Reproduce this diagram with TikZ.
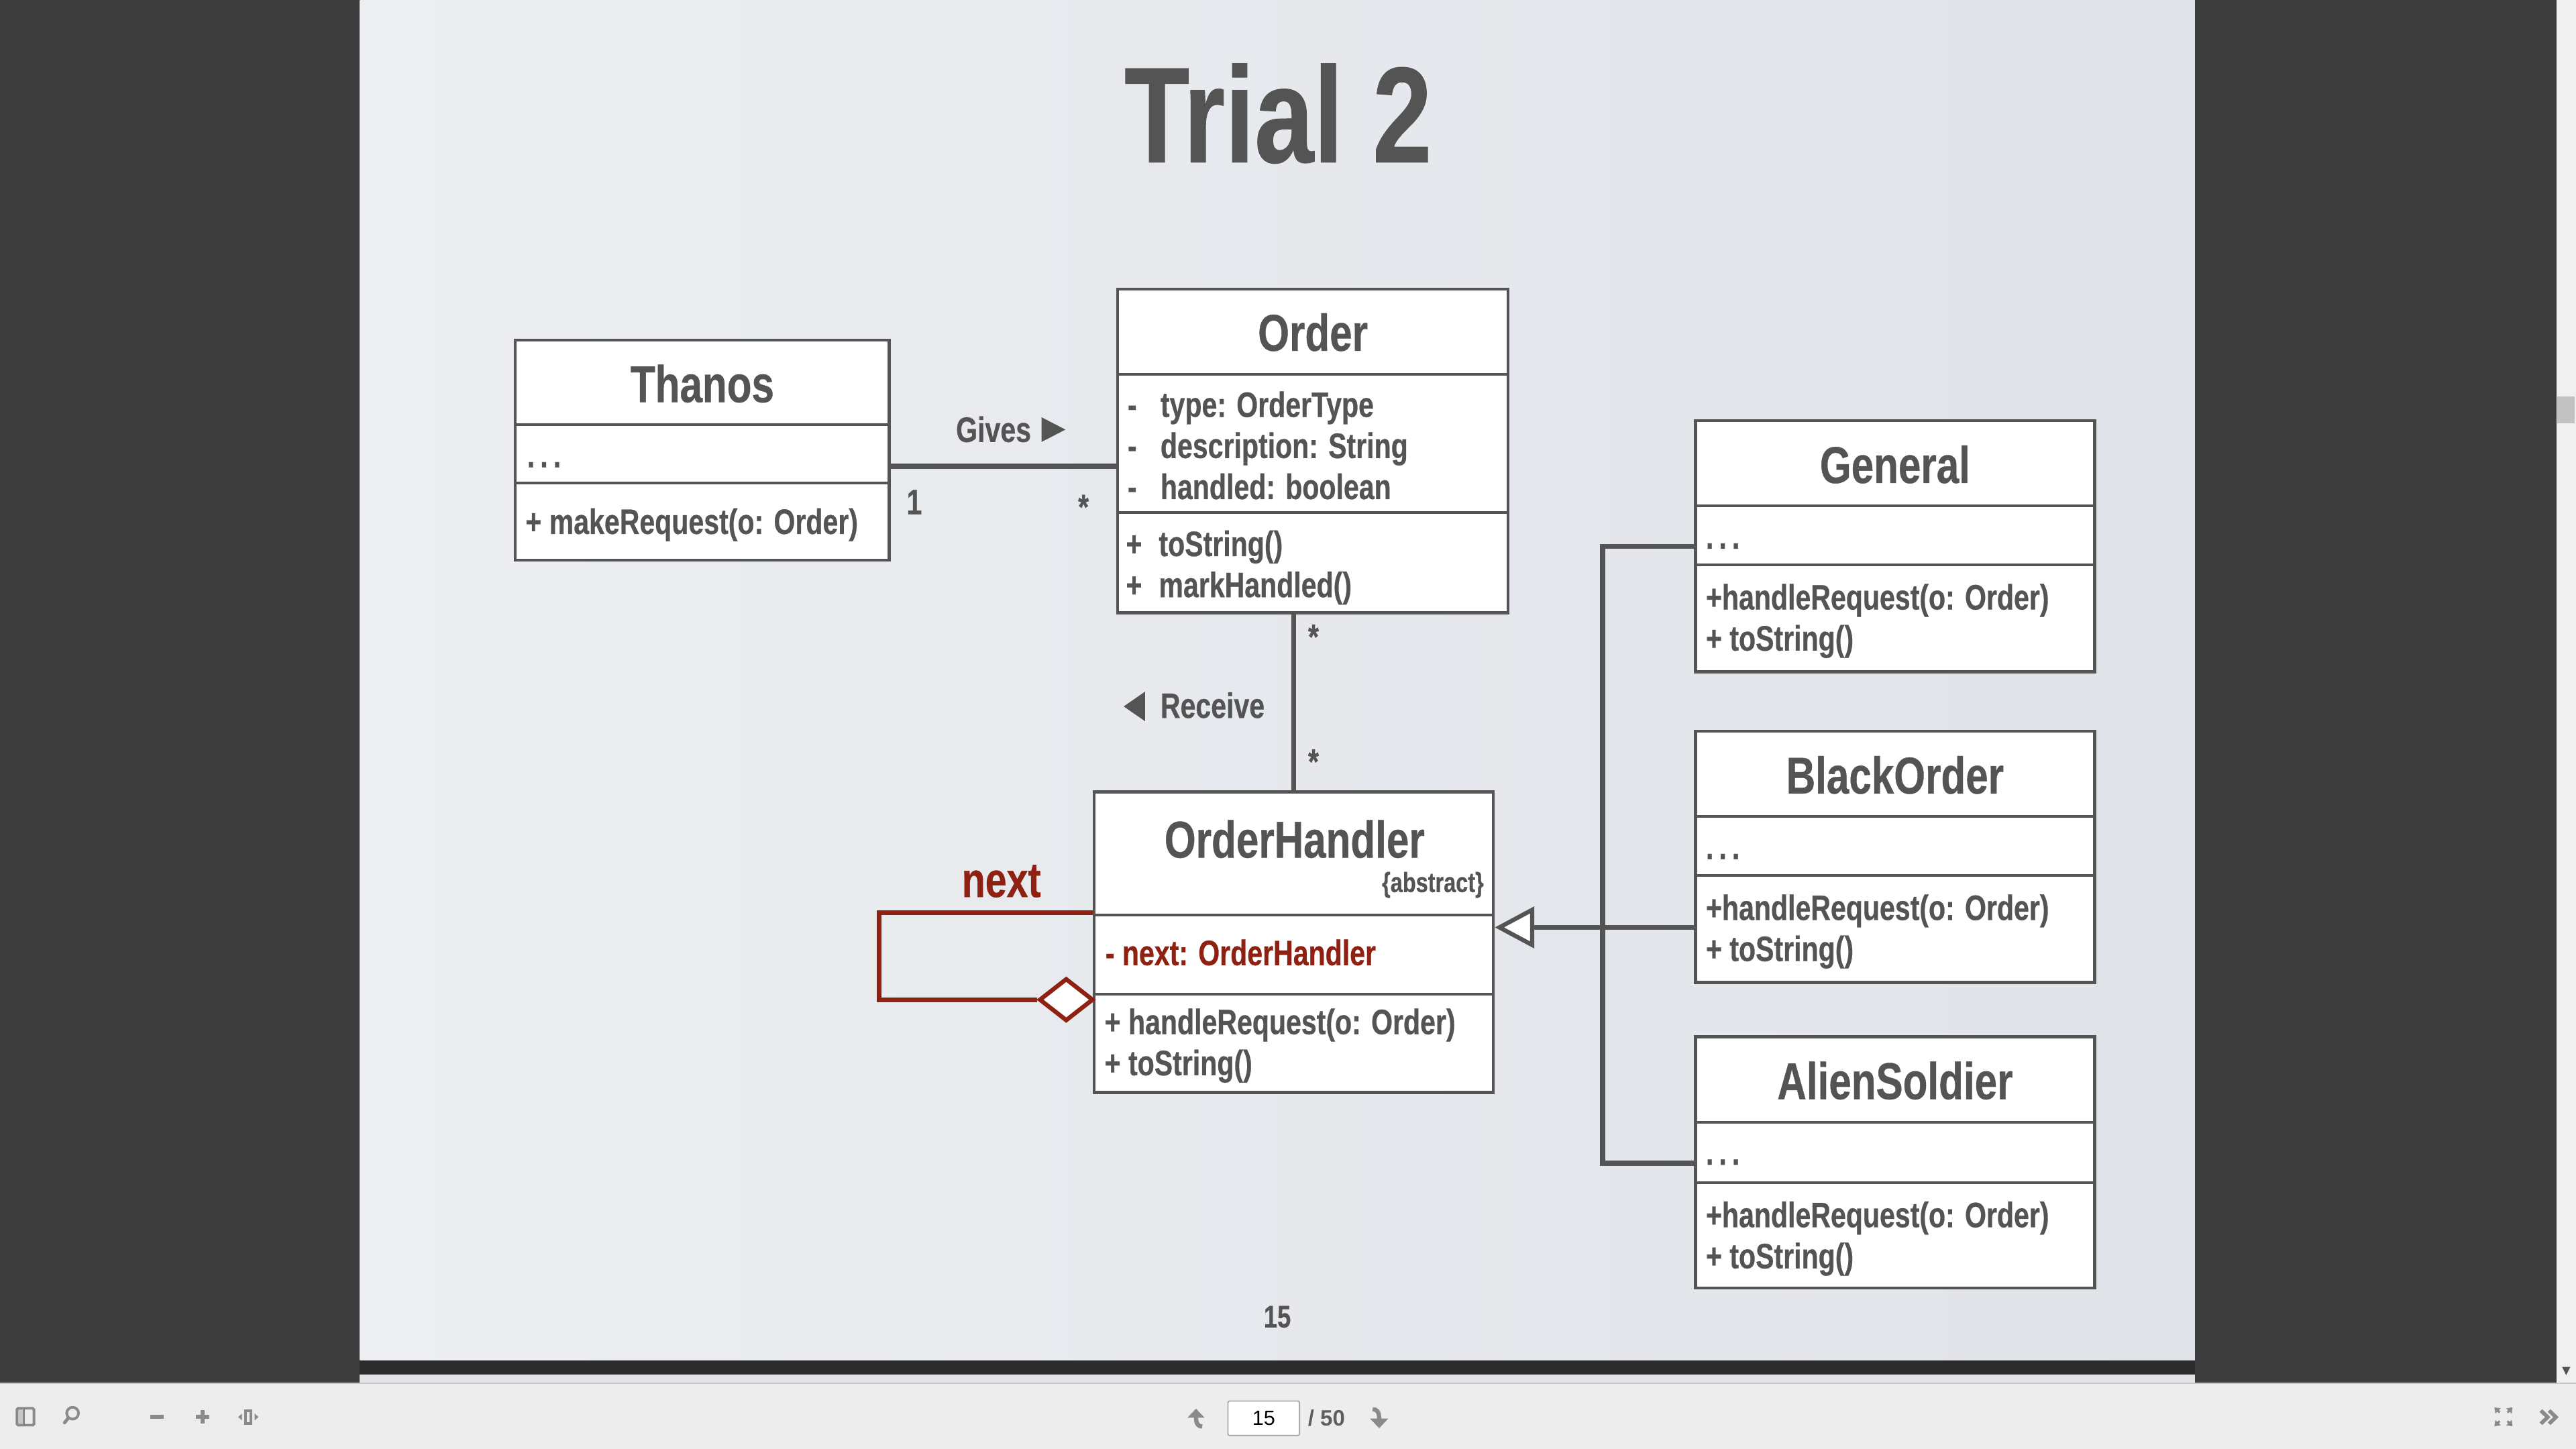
\documentclass[tikz,border=0pt]{standalone}
\usepackage{fontspec}
\setmainfont{Liberation Sans}[FakeStretch=0.78, BoldFeatures={FakeBold=0.5}]
\newfontfamily\barfont{Liberation Sans}
\usetikzlibrary{shapes.geometric,arrows.meta}

\definecolor{umlgray}{RGB}{84,84,84}
\definecolor{umlred}{RGB}{143,33,19}
\definecolor{viewerdark}{RGB}{60,60,60}
\definecolor{bandgray}{RGB}{44,44,44}
\definecolor{barlight}{RGB}{237,237,237}
\definecolor{icongray}{RGB}{138,138,138}
\definecolor{iconlight}{RGB}{200,200,200}
\definecolor{slideleft}{RGB}{236,238,241}
\definecolor{slideright}{RGB}{224,227,232}
\definecolor{nextslide}{RGB}{226,228,232}
\definecolor{scrolltrack}{RGB}{240,240,240}
\definecolor{scrollthumb}{RGB}{194,194,194}
\definecolor{barline}{RGB}{200,200,200}
\definecolor{boxline}{RGB}{170,170,170}
\definecolor{countgray}{RGB}{95,95,95}

\newcommand\umltitle{\fontsize{31.5}{36}\bfseries\selectfont}
\newcommand\umlbody{\fontsize{21.5}{25}\bfseries\selectfont}
\newcommand\umlsmall{\fontsize{17}{20}\bfseries\selectfont}
\newcommand\umldots{.\hspace{3.3pt}.\hspace{3.3pt}.}

\tikzset{every picture/.style={line width=0.75pt}}
\tikzset{
classbox/.style={draw=umlgray, fill=white, line width=1.8pt, inner sep=0pt},
divider/.style={draw=umlgray, line width=1.6pt},
assoc/.style={draw=umlgray, line width=3pt},
selfloop/.style={draw=umlred, line width=3pt},
classname/.style={anchor=base, inner sep=0pt, text=umlgray, font=\umltitle},
member/.style={anchor=base west, inner sep=0pt, text=umlgray, font=\umlbody},
mult/.style={anchor=base, inner sep=0pt, text=umlgray, font=\umlbody},
toolicon/.style={draw=icongray, line width=1.6pt},
cornertip/.style={draw=icongray, line width=1.3pt, -{Triangle[length=3.2pt, width=4.4pt]}}}

\begin{document}
\begin{tikzpicture}[x=1pt,y=-1pt]
\useasboundingbox (0,0) rectangle (1568,882);

%viewer background
\fill[viewerdark] (0,0) rectangle (1568,842);
\shade[left color=slideleft, right color=slideright] (219,0) rectangle (1336,828);
\fill[bandgray] (219,828) rectangle (1336,836.5);
\fill[nextslide] (219,836.5) rectangle (1336,842);
%scrollbar
\fill[scrolltrack] (1556,0) rectangle (1568,842);
\fill[scrollthumb] (1556.6,241.3) rectangle (1567.2,257.7);
\fill[umlgray] (1559.5,832) -- (1564.5,832) -- (1562,837) -- cycle;
%toolbar
\fill[barlight] (0,842) rectangle (1568,882);
\draw[barline] (0,842) -- (1568,842);

% Title
\node[anchor=base, inner sep=0pt, text=umlgray, font=\fontsize{83}{92}\bfseries\selectfont] (title) at (778,98.8) {Trial 2};

%Class Thanos
\node[classbox, minimum width=227.6pt, minimum height=134.1pt] (thanos) at (427.5,274) {};
\draw[divider] (313.7,258.5) -- (541.3,258.5);
\draw[divider] (313.7,294) -- (541.3,294);
\node[classname] (thanos-name) at (427.5,244.8) {Thanos};
\node[member] (thanos-attr) at (320.5,284.5) {\umldots};
\node[member] (thanos-op) at (319.5,325) {+ makeRequest(o: Order)};

%Class Order
\node[classbox, minimum width=237.7pt, minimum height=197pt] (order) at (799.15,274.5) {};
\draw[divider] (680.3,228) -- (918,228);
\draw[divider] (680.3,312) -- (918,312);
\node[classname] (order-name) at (799.15,213.5) {Order};
\node[member] (order-m1) at (686,253.8) {-};
\node[member] (order-a1) at (706,253.8) {type: OrderType};
\node[member] (order-m2) at (686,278.8) {-};
\node[member] (order-a2) at (706,278.8) {description: String};
\node[member] (order-m3) at (686,303.8) {-};
\node[member] (order-a3) at (706,303.8) {handled: boolean};
\node[member] (order-p1) at (685,338.5) {+};
\node[member] (order-o1) at (705,338.5) {toString()};
\node[member] (order-p2) at (685,363.5) {+};
\node[member] (order-o2) at (705,363.5) {markHandled()};

%Class OrderHandler
\node[classbox, minimum width=243pt, minimum height=183pt] (handler) at (787.5,573.5) {};
\draw[divider] (666,557) -- (909,557);
\draw[divider] (666,605) -- (909,605);
\node[classname] (handler-name) at (788,522) {OrderHandler};
\node[anchor=base east, inner sep=0pt, text=umlgray, font=\umlsmall] (handler-abs) at (903.5,543) {\{abstract\}};
\node[member, text=umlred] (handler-a1) at (672.5,587.5) {- next: OrderHandler};
\node[member] (handler-o1) at (672,629.5) {+ handleRequest(o: Order)};
\node[member] (handler-o2) at (672,654.5) {+ toString()};

%Class General
\node[classbox, minimum width=243pt, minimum height=153pt] (general) at (1153.5,332.5) {};
\draw[divider] (1032,308) -- (1275,308);
\draw[divider] (1032,344) -- (1275,344);
\node[classname] (general-name) at (1153.5,294) {General};
\node[member] (general-attr) at (1038,334) {\umldots};
\node[member] (general-o1) at (1038,371) {+handleRequest(o: Order)};
\node[member] (general-o2) at (1038,396) {+ toString()};

%Class BlackOrder
\node[classbox, minimum width=243pt, minimum height=153pt] (black) at (1153.5,521.5) {};
\draw[divider] (1032,497) -- (1275,497);
\draw[divider] (1032,533) -- (1275,533);
\node[classname] (black-name) at (1153.5,483) {BlackOrder};
\node[member] (black-attr) at (1038,523) {\umldots};
\node[member] (black-o1) at (1038,560) {+handleRequest(o: Order)};
\node[member] (black-o2) at (1038,585) {+ toString()};

%Class AlienSoldier
\node[classbox, minimum width=243pt, minimum height=153pt] (alien) at (1153.5,707.5) {};
\draw[divider] (1032,683) -- (1275,683);
\draw[divider] (1032,720) -- (1275,720);
\node[classname] (alien-name) at (1153.5,669) {AlienSoldier};
\node[member] (alien-attr) at (1038,709) {\umldots};
\node[member] (alien-o1) at (1038,747) {+handleRequest(o: Order)};
\node[member] (alien-o2) at (1038,772) {+ toString()};

%Association Gives
\coordinate (gives) at (610,283.8);
\draw[assoc] (thanos.east |- gives) -- (order.west |- gives);
\node[anchor=base east, inner sep=0pt, text=umlgray, font=\umlbody] (gives-label) at (628,269) {Gives};
\fill[umlgray] (634,254) -- (648.5,261.5) -- (634,269) -- cycle;
\node[mult] (gives-one) at (556.5,313) {1};
\node[mult] (gives-many) at (659.5,316) {*};

%Association Receive
\coordinate (recv) at (787.5,430);
\draw[assoc] (order.south -| recv) -- (handler.north -| recv);
\node[mult] (recv-top) at (799.5,395) {*};
\node[mult] (recv-bot) at (799.5,471) {*};
\fill[umlgray] (697,421) -- (684,430) -- (697,439) -- cycle;
\node[anchor=base west, inner sep=0pt, text=umlgray, font=\umlbody] (recv-label) at (706,437) {Receive};

%Self aggregation next
\coordinate (loop-top) at (535,555.5);
\coordinate (loop-bot) at (535,608.5);
\node[diamond, draw=umlred, fill=white, line width=2.6pt, aspect=1.26, minimum width=33pt, minimum height=26pt, inner sep=0pt] (agg) at (649,608.5) {};
\draw[selfloop] (handler.west |- loop-top) -- (loop-top) -- (loop-bot) -- (agg.west);
\node[anchor=base, inner sep=0pt, text=umlred, font=\fontsize{30}{34}\bfseries\selectfont] (next-label) at (609.5,546) {next};

%Generalization
\coordinate (hub) at (975.5,564.5);
\coordinate (hub-top) at (975.5,332.5);
\coordinate (hub-bot) at (975.5,708);
\draw[assoc, line join=miter] (general.west |- hub-top) -- (hub-top) -- (hub-bot) -- (alien.west |- hub-bot);
\draw[assoc, -{Triangle[open, length=24pt, width=25pt, fill=white, line width=2.6pt]}] (black.west |- hub) -- (handler.east |- hub);

% Page number
\node[anchor=base, inner sep=0pt, text=umlgray, font=\fontsize{19}{22}\bfseries\selectfont] (pageno) at (777.5,808) {15};

%toolbar controls
\fill[iconlight] (10.3,857.2) rectangle (14.5,867.5);
\draw[toolicon, rounded corners=0.8pt] (10.3,857.2) rectangle (20.7,867.5);
\draw[toolicon] (14.5,857.2) -- (14.5,867.5);
\draw[toolicon] (44.2,860.2) circle (3.6);
\draw[toolicon, line width=2pt, line cap=round] (41.5,863.2) -- (39.3,866);
\draw[toolicon, line width=2.2pt] (91.5,862.4) -- (99.6,862.4);
\draw[toolicon, line width=2.2pt] (119.2,862.4) -- (127.4,862.4);
\draw[toolicon, line width=2.2pt] (123.3,858.4) -- (123.3,866.5);
\draw[toolicon, line width=1.5pt] (149.4,858.6) rectangle (152.8,866.4);
\fill[icongray] (147.3,860.4) -- (145,862.5) -- (147.3,864.6) -- cycle;
\fill[icongray] (155,860.4) -- (157.3,862.5) -- (155,864.6) -- cycle;
\fill[icongray] (722.7,863) -- (728,857.5) -- (733.3,863) -- cycle;
\draw[toolicon, line width=2.6pt] (728,862.5) .. controls (728,867) and (729.5,868.3) .. (731.8,868.3);
\node[draw=boxline, fill=white, line width=0.8pt, rounded corners=1pt, minimum width=43.5pt, minimum height=21pt, inner sep=0pt, font=\barfont\fontsize{12.5}{15}\selectfont] (pagebox) at (769.2,863.3) {15};
\node[anchor=west, inner sep=0pt, text=countgray, font=\barfont\fontsize{13.5}{16}\bfseries\selectfont] (pagecount) at (795.8,863.3) {/ 50};
\fill[icongray] (833.9,863.5) -- (839.5,869.3) -- (845,863.5) -- cycle;
\draw[toolicon, line width=2.6pt] (835.5,857.8) .. controls (838,857.8) and (839.5,859) .. (839.5,864);
\draw[cornertip] (1521.5,859.8) -- (1518.3,856.6);
\draw[cornertip] (1526.2,859.8) -- (1529.4,856.6);
\draw[cornertip] (1521.5,865) -- (1518.3,868.2);
\draw[cornertip] (1526.2,865) -- (1529.4,868.2);
\draw[toolicon, line width=2.3pt, line join=miter] (1546.6,858.6) -- (1550.8,862.6) -- (1546.6,866.6);
\draw[toolicon, line width=2.3pt, line join=miter] (1551.6,858.6) -- (1555.8,862.6) -- (1551.6,866.6);

\end{tikzpicture}
\end{document}
